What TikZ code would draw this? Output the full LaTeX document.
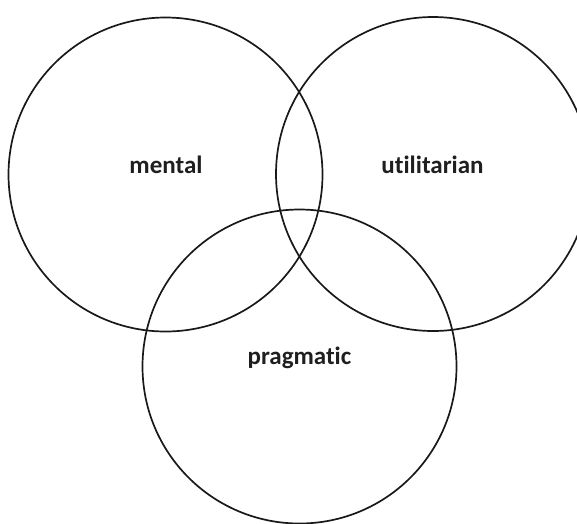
\documentclass[tikz,border=0pt]{standalone}
\usepackage{fontspec}
\setmainfont[Ligatures=NoCommon]{Carlito}
\begin{document}
\begin{tikzpicture}[x=1pt,y=-1pt,
  ring/.style={draw=black!90, line width=1.7pt, circle, minimum size=314pt, inner sep=0pt},
  lbl/.style={font=\bfseries\fontsize{25}{28}\selectfont, text=black!88, anchor=base, inner sep=0pt}]
\useasboundingbox (0,0) rectangle (577,523);
\begin{scope}
\clip (0,0) rectangle (577,523);
\node[ring] (mentalc) at (165.5,174.5) {};
\node[ring] (utilc) at (433,174) {};
\node[ring] (pragc) at (299.5,366.5) {};
\end{scope}
\node[lbl] (mental) at (166,173) {mental};
\node[lbl] (util) at (432.5,173) {utilitarian};
\node[lbl] (prag) at (299.5,364) {pragmatic};
\end{tikzpicture}
\end{document}
